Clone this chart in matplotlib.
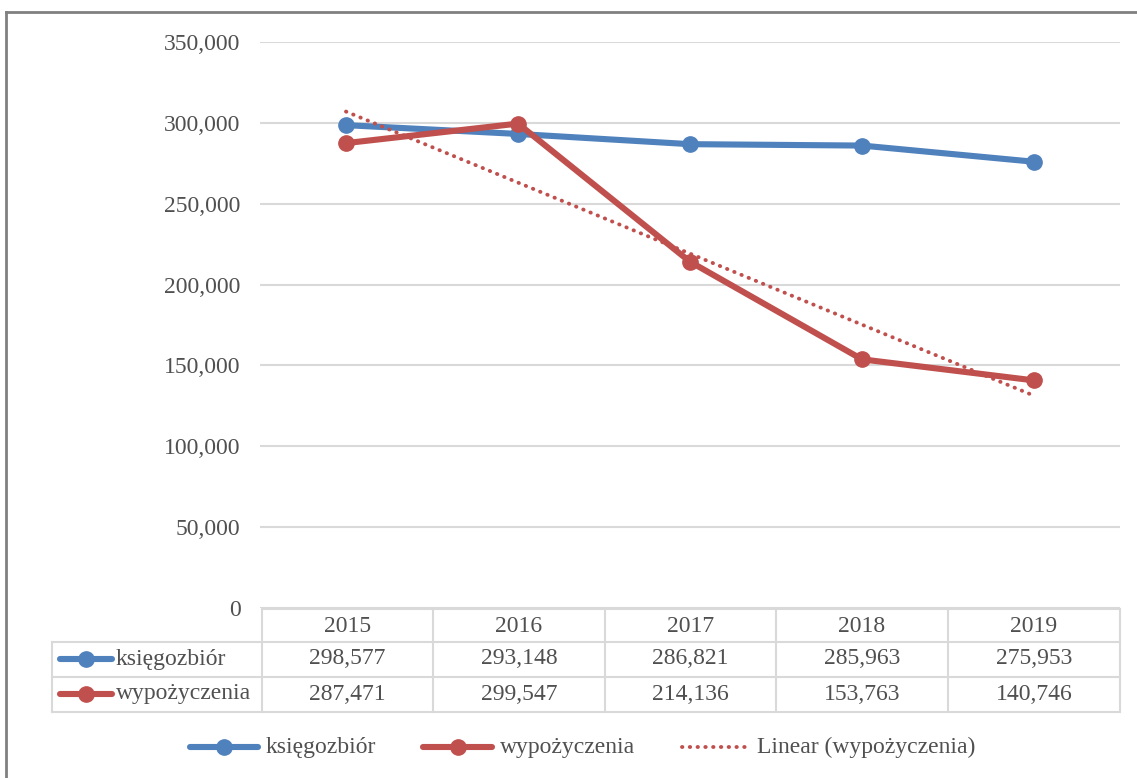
import matplotlib
matplotlib.use("Agg")
import matplotlib.pyplot as plt
import numpy as np

years = ["2015", "2016", "2017", "2018", "2019"]
ksiegozbior = [298577, 293148, 286821, 285963, 275953]
wypozyczenia = [287471, 299547, 214136, 153763, 140746]
yticks = [0, 50000, 100000, 150000, 200000, 250000, 300000, 350000]

blue = "#4f81bd"
red = "#c0504d"
grey_txt = "#505050"
grid_c = "#d9d9d9"

plt.rcParams["font.family"] = ["Liberation Serif", "DejaVu Serif"]

W, H = 1137, 778
fig = plt.figure(figsize=(W / 100, H / 100), dpi=100)

def fx(px):
    return px / W

def fy(py):
    return 1 - py / H

dots = (0, (0.1, 1.9))
LW = 4.4
MS = 11

# plot area in pixels: x 260..1120, y 42..608
ax = fig.add_axes([fx(260), fy(608), fx(1120) - fx(260), fy(42) - fy(608)])
x = np.arange(len(years))
ax.set_xlim(-0.5, len(years) - 0.5)
ax.set_ylim(0, 350000)
ax.set_yticks(yticks)
ax.set_yticklabels(["{:,}".format(v) for v in yticks])
ax.tick_params(axis="y", length=0, pad=14, labelsize=17, labelcolor=grey_txt)
ax.set_xticks([])
for s in ax.spines.values():
    s.set_visible(False)
ax.grid(axis="y", color=grid_c, lw=1.5)
ax.set_axisbelow(True)

ax.plot(x, ksiegozbior, color=blue, lw=LW, marker="o", ms=MS, solid_capstyle="round")
ax.plot(x, wypozyczenia, color=red, lw=LW, marker="o", ms=MS, solid_capstyle="round")
coef = np.polyfit(x + 1, wypozyczenia, 1)
trend = np.polyval(coef, x + 1)
ax.plot(x, trend, color=red, lw=2.8, ls=dots, dash_capstyle="round")

# data table drawn in figure pixels
col_edges = [262, 433, 605, 776, 948, 1120]
line_kw = dict(color=grid_c, lw=1.5, transform=fig.transFigure)
fig.add_artist(plt.Line2D([fx(262), fx(1120)], [fy(609), fy(609)], **line_kw))
for yy in [642, 677, 712]:
    fig.add_artist(plt.Line2D([fx(52), fx(1120)], [fy(yy), fy(yy)], **line_kw))
for xe in col_edges:
    fig.add_artist(plt.Line2D([fx(xe), fx(xe)], [fy(609), fy(712)], **line_kw))
fig.add_artist(plt.Line2D([fx(52), fx(52)], [fy(642), fy(712)], **line_kw))

centers = [(col_edges[i] + col_edges[i + 1]) / 2 for i in range(len(years))]
for c, yr in zip(centers, years):
    fig.text(fx(c), fy(626), yr, ha="center", va="center", fontsize=17, color=grey_txt)
rows = [("księgozbiór", ksiegozbior, blue, 659), ("wypożyczenia", wypozyczenia, red, 694)]
for name, vals, col, yy in rows:
    fig.add_artist(plt.Line2D([fx(60), fx(112)], [fy(yy), fy(yy)], color=col, lw=LW,
                              solid_capstyle="round", transform=fig.transFigure))
    fig.add_artist(plt.Line2D([fx(86)], [fy(yy)], color=col, marker="o", ms=MS,
                              transform=fig.transFigure))
    fig.text(fx(116), fy(yy), name, ha="left", va="center", fontsize=17, color=grey_txt)
    for c, v in zip(centers, vals):
        fig.text(fx(c), fy(yy), "{:,}".format(v), ha="center", va="center", fontsize=17, color=grey_txt)

# legend
leg_y = 747
items = [(190, 258, blue, "księgozbiór", "solid"), (423, 492, red, "wypożyczenia", "solid"),
         (682, 749, red, "Linear (wypożyczenia)", "dot")]
for x0, x1, col, label, kind in items:
    if kind == "solid":
        fig.add_artist(plt.Line2D([fx(x0), fx(x1)], [fy(leg_y), fy(leg_y)], color=col, lw=LW,
                                  solid_capstyle="round", transform=fig.transFigure))
        fig.add_artist(plt.Line2D([fx((x0 + x1) / 2)], [fy(leg_y)], color=col, marker="o", ms=MS,
                                  transform=fig.transFigure))
    else:
        fig.add_artist(plt.Line2D([fx(x0), fx(x1)], [fy(leg_y), fy(leg_y)], color=col, lw=2.8,
                                  ls=dots, dash_capstyle="round", transform=fig.transFigure))
    fig.text(fx(x1 + 8), fy(leg_y), label, ha="left", va="center", fontsize=17, color=grey_txt)

# outer border (top and left visible)
fig.add_artist(plt.Line2D([fx(6), fx(6)], [fy(12), 0], color="#808080", lw=2, transform=fig.transFigure))
fig.add_artist(plt.Line2D([fx(6), 1], [fy(12), fy(12)], color="#808080", lw=2, transform=fig.transFigure))

fig.savefig("out.png", dpi=100)
